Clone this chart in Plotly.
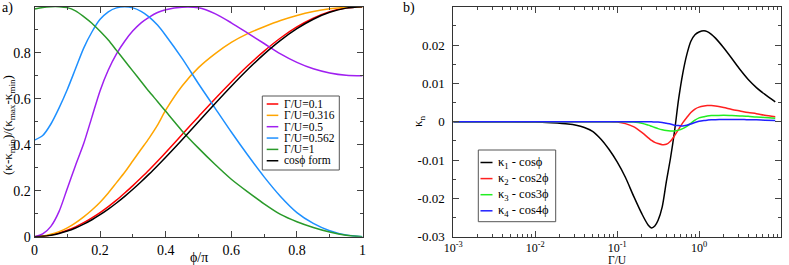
import plotly.graph_objects as go

W, H = 789, 265

# ---------------- panel a) data ----------------
phi = [0, 0.025, 0.05, 0.075, 0.1, 0.125, 0.15, 0.175, 0.2, 0.225, 0.25, 0.275, 0.3, 0.325,
       0.35, 0.375, 0.4, 0.45, 0.5, 0.55, 0.6, 0.65, 0.7, 0.75, 0.8, 0.85, 0.9, 0.95, 1.0]
g01 = [0, 0.002, 0.0075, 0.016, 0.028, 0.043, 0.061, 0.082, 0.105, 0.131, 0.159, 0.19, 0.222, 0.256,
       0.291, 0.328, 0.366, 0.444, 0.522, 0.599, 0.673, 0.743, 0.807, 0.864, 0.912, 0.95, 0.978, 0.994, 1.0]
g0316 = [0, 0.003, 0.011, 0.022, 0.038, 0.06, 0.086, 0.116, 0.15, 0.19, 0.235, 0.28, 0.33, 0.38,
         0.43, 0.485, 0.55, 0.655, 0.735, 0.795, 0.845, 0.883, 0.913, 0.94, 0.962, 0.979, 0.991, 0.998, 1.0]
g05 = [0, 0.012, 0.045, 0.11, 0.21, 0.31, 0.405, 0.52, 0.635, 0.725, 0.795, 0.85, 0.895, 0.93,
       0.955, 0.975, 0.987, 0.998, 0.995, 0.97, 0.93, 0.885, 0.84, 0.795, 0.758, 0.73, 0.712, 0.702, 0.70]
g0562 = [0.42, 0.44, 0.49, 0.56, 0.64, 0.73, 0.82, 0.89, 0.945, 0.978, 0.995, 1.0, 0.995, 0.98,
         0.955, 0.92, 0.875, 0.775, 0.665, 0.56, 0.455, 0.355, 0.26, 0.175, 0.105, 0.058, 0.026, 0.007, 0.0]
g1 = [0.99, 0.997, 1.0, 1.0, 0.996, 0.982, 0.957, 0.928, 0.893, 0.855, 0.81, 0.765, 0.72, 0.675,
      0.63, 0.588, 0.545, 0.46, 0.385, 0.315, 0.25, 0.195, 0.143, 0.097, 0.065, 0.04, 0.02, 0.006, 0.0]
cosform = [0, 0.0015, 0.0062, 0.0138, 0.0245, 0.0381, 0.0545, 0.0737, 0.0955, 0.1198, 0.1464, 0.1753,
           0.2061, 0.2388, 0.2730, 0.3087, 0.3455, 0.4218, 0.5, 0.5782, 0.6545, 0.7270, 0.7939,
           0.8536, 0.9045, 0.9455, 0.9755, 0.9938, 1.0]

a_names = ["Γ/U=0.1", "Γ/U=0.316", "Γ/U=0.5", "Γ/U=0.562", "Γ/U=1", "cosϕ form"]
a_series = [g01, g0316, g05, g0562, g1, cosform]
a_colors = ["#ff0000", "#ffa500", "#a020f0", "#1e90ff", "#2a9a2a", "#000000"]

a_ticks = [0, 0.2, 0.4, 0.6, 0.8, 1.0]
a_ticktext = ["0", "0.2", "0.4", "0.6", "0.8", "1"]

# ---------------- panel b) data ----------------
gamma = [0.001, 0.00316, 0.01, 0.0158, 0.0251, 0.0316, 0.0398, 0.0501, 0.0631, 0.0794, 0.1,
         0.126, 0.158, 0.2, 0.24, 0.263, 0.288, 0.316, 0.355, 0.398, 0.447, 0.501, 0.562,
         0.631, 0.708, 0.794, 0.891, 1.0, 1.148, 1.259, 1.413, 1.585, 1.995, 2.512, 3.162,
         3.981, 5.012, 6.31, 8.51]
k1 = [0, 0, -0.0001, -0.0003, -0.0006, -0.0009, -0.0015, -0.0025, -0.0045, -0.0072, -0.0105,
      -0.0145, -0.0193, -0.024, -0.027, -0.0277, -0.0272, -0.0257, -0.0222, -0.0157, -0.0096,
      -0.0026, 0.0058, 0.0125, 0.0175, 0.021, 0.0227, 0.0234, 0.0237, 0.0235, 0.0228, 0.0218,
      0.0193, 0.0165, 0.0136, 0.011, 0.0089, 0.0072, 0.0052]
k2 = [0, 0, 0, 0, 0, 0, 0, 0, 0, 0, -0.0001, -0.0005, -0.0013, -0.0028, -0.0042, -0.0049,
      -0.0054, -0.0057, -0.006, -0.0059, -0.0051, -0.0037, -0.002, -0.0003, 0.0011, 0.0024,
      0.0033, 0.0038, 0.0041, 0.0042, 0.0042, 0.0041, 0.0037, 0.0032, 0.0028, 0.0024, 0.0021,
      0.0017, 0.0013]
k3 = [0, 0, 0, 0, 0, 0, 0, 0, 0, 0, 0, 0, -0.0001, -0.0004, -0.0009, -0.0012, -0.0015, -0.0018,
      -0.0021, -0.0023, -0.0024, -0.0024, -0.0022, -0.0018, -0.0012, -0.0004, 0.0004, 0.001,
      0.0013, 0.0015, 0.0016, 0.0016, 0.0017, 0.0016, 0.0015, 0.0014, 0.0012, 0.0011, 0.0009]
k4 = [0, 0, 0, 0, 0, 0, 0, 0, 0, 0, 0, 0, 0, 0, 0, 0, -0.0001, -0.0001, -0.0002, -0.0004,
      -0.0006, -0.0009, -0.001, -0.0011, -0.0009, -0.0006, -0.0002, 0.0001, 0.0003, 0.0004,
      0.0005, 0.0005, 0.0006, 0.0006, 0.0006, 0.0005, 0.0005, 0.0004, 0.0003]

b_names = ["κ<sub>1</sub> - cosϕ", "κ<sub>2</sub> - cos2ϕ", "κ<sub>3</sub> - cos3ϕ", "κ<sub>4</sub> - cos4ϕ"]
b_series = [k1, k2, k3, k4]
b_colors = ["#000000", "#ff2020", "#22ee22", "#2020ff"]

b_xticks = [0.001, 0.01, 0.1, 1, 10]
b_xticktext = ["10<sup>-3</sup>", "10<sup>-2</sup>", "10<sup>-1</sup>", "10<sup>0</sup>", "10<sup>1</sup>"]
b_yticks = [-0.03, -0.02, -0.01, 0, 0.01, 0.02, 0.03]
b_yticktext = ["-0.03", "-0.02", "-0.01", "0", "0.01", "0.02", "0.03"]

FONT = "Liberation Serif, Times New Roman, Times, serif"

def px(x):
    return x / W

def py(y):
    return 1 - y / H

fig = go.Figure()

for name, ys, c in zip(a_names, a_series, a_colors):
    fig.add_trace(go.Scatter(x=phi, y=ys, mode="lines", name=name, showlegend=False,
                             line=dict(color=c, width=1.5, shape="spline", smoothing=0.8),
                             xaxis="x", yaxis="y"))
for name, ys, c in zip(b_names, b_series, b_colors):
    fig.add_trace(go.Scatter(x=gamma, y=ys, mode="lines", name=name, showlegend=False,
                             line=dict(color=c, width=1.5, shape="spline", smoothing=0.8),
                             xaxis="x2", yaxis="y2"))

minor_log = [m * 10.0 ** e for e in range(-3, 1) for m in range(2, 10)]

common = dict(showline=True, linecolor="#333", linewidth=1, mirror="ticks", ticks="inside",
              tickcolor="#444", tickwidth=1, showgrid=False, zeroline=False, automargin=False)

fig.update_layout(
    template="none",
    width=W, height=H, margin=dict(l=0, r=0, t=0, b=0, autoexpand=False),
    paper_bgcolor="white", plot_bgcolor="white",
    font=dict(family=FONT, color="black", size=12),
    showlegend=False,
    xaxis=dict(domain=[px(34.5), px(362.5)], range=[0, 1], tickvals=a_ticks, ticktext=a_ticktext,
               ticklen=6, minor=dict(dtick=0.1, ticks="inside", ticklen=3, tickcolor="#444"),
               tickfont=dict(family=FONT, size=14), anchor="y", **common),
    yaxis=dict(domain=[1 - 236.7 / H, 1 - 6.7 / H], range=[0, 1], tickvals=a_ticks, ticktext=a_ticktext,
               ticklen=6, minor=dict(dtick=0.1, ticks="inside", ticklen=3, tickcolor="#444"),
               tickfont=dict(family=FONT, size=14), anchor="x", ticklabelstandoff=0, **common),
    xaxis2=dict(domain=[px(453.3), px(781)], type="log", range=[-3, 1], tickvals=b_xticks,
                ticktext=b_xticktext, ticklen=6,
                minor=dict(tickvals=minor_log, ticks="inside", ticklen=3, tickcolor="#444"),
                tickfont=dict(family=FONT, size=12), anchor="y2", **common),
    yaxis2=dict(domain=[1 - 236.7 / H, 1 - 6.7 / H], range=[-0.03, 0.03], tickvals=b_yticks,
                ticktext=b_yticktext, ticklen=6,
                minor=dict(dtick=0.005, ticks="inside", ticklen=3, tickcolor="#444"),
                tickfont=dict(family=FONT, size=13), anchor="x2", ticklabelstandoff=5, **common),
)

ann = []
def text(t, x, y, size, anchor="center", angle=0):
    ann.append(dict(text=t, x=px(x), y=py(y), xref="paper", yref="paper", xanchor=anchor,
                    yanchor="middle", showarrow=False, textangle=angle,
                    font=dict(family=FONT, size=size, color="black")))

text("a)", 0, 8, 14, "left")
text("b)", 401, 8, 14, "left")
text("ϕ/π", 198.5, 257, 14)
text("Γ/U", 617, 259.5, 11.5)
text("(κ-κ<sub>min</sub>)/(κ<sub>max</sub>-κ<sub>min</sub>)", 8, 125, 13, angle=-90)
text("κ<sub>n</sub>", 418, 121, 13, angle=-90)

shapes = []
# legend a)
shapes.append(dict(type="rect", xref="paper", yref="paper", x0=px(262.3), x1=px(339.3), y0=py(170),
                   y1=py(96), line=dict(color="#555", width=1), fillcolor="white", layer="above"))
for i, (name, c) in enumerate(zip(a_names, a_colors)):
    yy = 104 + 11.35 * i
    shapes.append(dict(type="line", xref="paper", yref="paper", x0=px(266.7), x1=px(278.3),
                       y0=py(yy), y1=py(yy), line=dict(color=c, width=1.5), layer="above"))
    text(name, 281.5, yy, 11.5, "left")
# legend b)
shapes.append(dict(type="rect", xref="paper", yref="paper", x0=px(478.3), x1=px(555.7), y0=py(221.7),
                   y1=py(150), line=dict(color="#555", width=1), fillcolor="white", layer="above"))
for i, (name, c) in enumerate(zip(b_names, b_colors)):
    yy = 162.5 + 16.1 * i
    shapes.append(dict(type="line", xref="paper", yref="paper", x0=px(480.5), x1=px(492.5),
                       y0=py(yy), y1=py(yy), line=dict(color=c, width=1.5), layer="above"))
    text(name, 495.5, yy, 12.5, "left")

fig.update_layout(annotations=ann, shapes=shapes)
fig.write_html("out.html", config={"displayModeBar": False, "staticPlot": True},
               post_script="document.body.style.margin='0';document.body.style.overflow='hidden';")
